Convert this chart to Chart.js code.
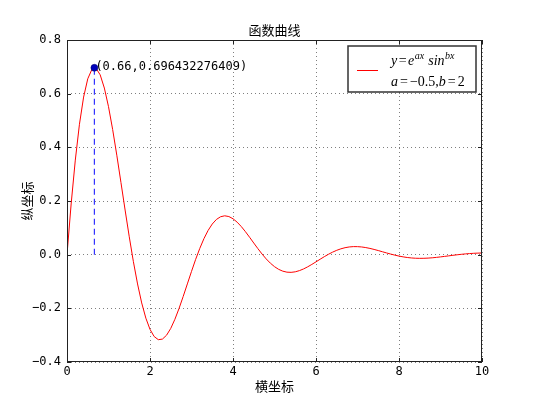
<!DOCTYPE html>
<html>
<head>
<meta charset="utf-8">
<script src="https://cdn.jsdelivr.net/npm/chart.js@4/dist/chart.umd.min.js"></script>
<style>
  html, body { margin: 0; padding: 0; background: #fff; }
  #wrap { width: 536px; height: 402px; }
</style>
</head>
<body>
<div id="wrap"><canvas id="curve" width="536" height="402"></canvas></div>
<script>
// y = e^(ax) * sin(bx), a=-0.5, b=2 at x steps of 0.1
var xs = [
    0.0, 0.1, 0.2, 0.3, 0.4, 0.5, 0.6, 0.7, 0.8, 0.9,
    1.0, 1.1, 1.2, 1.3, 1.4, 1.5, 1.6, 1.7, 1.8, 1.9,
    2.0, 2.1, 2.2, 2.3, 2.4, 2.5, 2.6, 2.7, 2.8, 2.9,
    3.0, 3.1, 3.2, 3.3, 3.4, 3.5, 3.6, 3.7, 3.8, 3.9,
    4.0, 4.1, 4.2, 4.3, 4.4, 4.5, 4.6, 4.7, 4.8, 4.9,
    5.0, 5.1, 5.2, 5.3, 5.4, 5.5, 5.6, 5.7, 5.8, 5.9,
    6.0, 6.1, 6.2, 6.3, 6.4, 6.5, 6.6, 6.7, 6.8, 6.9,
    7.0, 7.1, 7.2, 7.3, 7.4, 7.5, 7.6, 7.7, 7.8, 7.9,
    8.0, 8.1, 8.2, 8.3, 8.4, 8.5, 8.6, 8.7, 8.8, 8.9,
    9.0, 9.1, 9.2, 9.3, 9.4, 9.5, 9.6, 9.7, 9.8, 9.9,
    10.0
];
var ys = [
    0.0000, 0.1890, 0.3524, 0.4860, 0.5873, 0.6553, 0.6905, 0.6944, 0.6700, 0.6210,
    0.5515, 0.4665, 0.3707, 0.2691, 0.1664, 0.0667, -0.0262, -0.1092, -0.1799, -0.2366,
    -0.2784, -0.3050, -0.3168, -0.3146, -0.3000, -0.2747, -0.2408, -0.2003, -0.1557, -0.1090,
    -0.0624, -0.0176, 0.0235, 0.0598, 0.0903, 0.1142, 0.1312, 0.1413, 0.1448, 0.1421,
    0.1339, 0.1211, 0.1047, 0.0856, 0.0648, 0.0434, 0.0224, 0.0024, -0.0158, -0.0316,
    -0.0447, -0.0547, -0.0615, -0.0652, -0.0659, -0.0639, -0.0595, -0.0532, -0.0453, -0.0363,
    -0.0267, -0.0170, -0.0075, 0.0014, 0.0094, 0.0163, 0.0218, 0.0260, 0.0287, 0.0300,
    0.0299, 0.0287, 0.0264, 0.0233, 0.0195, 0.0153, 0.0109, 0.0065, 0.0022, -0.0018,
    -0.0053, -0.0082, -0.0106, -0.0123, -0.0133, -0.0137, -0.0135, -0.0128, -0.0117, -0.0101,
    -0.0083, -0.0064, -0.0044, -0.0024, -0.0005, 0.0013, 0.0028, 0.0041, 0.0051, 0.0058,
    0.0062
];
var peakX = 0.66;
var peakY = 0.696432276409;
var peakLabel = "(0.66,0.696432276409)";
var xTicks = [0, 2, 4, 6, 8, 10];
var yTicks = [-0.4, -0.2, 0.0, 0.2, 0.4, 0.6, 0.8];

var curveData = xs.map(function (x, i) { return { x: x, y: ys[i] }; });

var mono = "'DejaVu Sans Mono', monospace";
var cjk = "'Noto Sans CJK SC', sans-serif";

// frame, inward ticks, titles, annotation and the math legend
var decor = {
    id: 'decor',
    afterDatasetsDraw: function (chart) {
        var ctx = chart.ctx;
        var a = chart.chartArea;
        var sx = chart.scales.x, sy = chart.scales.y;
        ctx.save();
        ctx.strokeStyle = '#222';
        ctx.lineWidth = 1;
        ctx.strokeRect(a.left + 0.5, a.top + 0.5, a.right - a.left - 1, a.bottom - a.top - 1);
        ctx.beginPath();
        xTicks.forEach(function (t) {
            var px = Math.round(sx.getPixelForValue(t)) + 0.5;
            ctx.moveTo(px, a.bottom); ctx.lineTo(px, a.bottom - 4);
            ctx.moveTo(px, a.top); ctx.lineTo(px, a.top + 4);
        });
        yTicks.forEach(function (t) {
            var py = Math.round(sy.getPixelForValue(t)) + 0.5;
            ctx.moveTo(a.left, py); ctx.lineTo(a.left + 4, py);
            ctx.moveTo(a.right, py); ctx.lineTo(a.right - 4, py);
        });
        ctx.stroke();

        // annotation
        ctx.fillStyle = '#000';
        ctx.font = '12px ' + mono;
        ctx.textAlign = 'left';
        ctx.textBaseline = 'alphabetic';
        ctx.fillText(peakLabel, sx.getPixelForValue(peakX) + 1, sy.getPixelForValue(peakY) + 2);

        // titles
        ctx.font = '13px ' + cjk;
        ctx.textAlign = 'center';
        ctx.textBaseline = 'middle';
        ctx.fillText('函数曲线', (a.left + a.right) / 2, 30);
        ctx.fillText('横坐标', (a.left + a.right) / 2, 386);
        ctx.save();
        ctx.translate(27, (a.top + a.bottom) / 2);
        ctx.rotate(-Math.PI / 2);
        ctx.fillText('纵坐标', 0, 0);
        ctx.restore();

        // legend box
        var lx = 348, ly = 46, lw = 128, lh = 46;
        ctx.fillStyle = '#fff';
        ctx.fillRect(lx, ly, lw, lh);
        ctx.strokeStyle = '#333';
        ctx.lineWidth = 1.5;
        ctx.strokeRect(lx, ly, lw, lh);
        ctx.strokeStyle = 'red';
        ctx.lineWidth = 1;
        ctx.beginPath();
        ctx.moveTo(357, 70.5); ctx.lineTo(378, 70.5);
        ctx.stroke();

        ctx.fillStyle = '#000';
        ctx.textAlign = 'left';
        ctx.textBaseline = 'alphabetic';
        var it = "italic 14px 'Liberation Serif', serif";
        var up = "14px 'Liberation Serif', serif";
        var sup = "italic 10px 'Liberation Serif', serif";
        // [text, font, superscript, gap after]
        function run(parts, x, y) {
            parts.forEach(function (p) {
                ctx.font = p[1];
                var yy = p[2] ? y - 6 : y;
                ctx.fillText(p[0], x, yy);
                x += ctx.measureText(p[0]).width + (p[3] || 0);
            });
        }
        run([['y', it, false, 1.5], ['=', up, false, 1.5], ['e', it, false, 0.5],
             ['ax', sup, true, 4], ['sin', it, false, 0.5], ['bx', sup, true]], 391, 65);
        run([['a', it, false, 2], ['=', up, false, 2], ['\u22120.5,', up], ['b', it, false, 2],
             ['=', up, false, 2], ['2', up]], 391, 86);
        ctx.restore();
    }
};

var chart = new Chart(document.getElementById('curve').getContext('2d'), {
    type: 'line',
    data: {
        datasets: [
            {
                data: curveData,
                borderColor: 'red',
                borderWidth: 1,
                pointRadius: 0,
                tension: 0,
                order: 3
            },
            {
                data: [{ x: peakX, y: 0 }, { x: peakX, y: peakY }],
                borderColor: '#3333ff',
                borderWidth: 1.2,
                borderDash: [6, 4],
                pointRadius: 0,
                order: 2
            },
            {
                type: 'scatter',
                data: [{ x: peakX, y: peakY }],
                backgroundColor: '#0000bb',
                borderColor: '#000066',
                borderWidth: 0.5,
                pointRadius: 3.5,
                order: 1
            }
        ]
    },
    options: {
        responsive: false,
        animation: false,
        layout: { padding: { top: 40, right: 54, left: 0, bottom: 0 } },
        plugins: {
            legend: { display: false },
            tooltip: { enabled: false }
        },
        scales: {
            x: {
                type: 'linear',
                min: 0,
                max: 10,
                afterFit: function (s) { s.height = 40; },
                afterBuildTicks: function (s) { s.ticks = xTicks.map(function (v) { return { value: v }; }); },
                ticks: {
                    padding: 3,
                    color: '#000',
                    font: { family: mono, size: 12 },
                    maxRotation: 0,
                    callback: function (v) { return String(v); }
                },
                grid: { color: 'rgba(0,0,0,0.5)', drawTicks: false, lineWidth: 1 },
                border: { display: false, dash: [1, 3] }
            },
            y: {
                min: -0.4,
                max: 0.8,
                afterFit: function (s) { s.width = 67; },
                afterBuildTicks: function (s) { s.ticks = yTicks.map(function (v) { return { value: v }; }); },
                ticks: {
                    padding: 6,
                    color: '#000',
                    font: { family: mono, size: 12 },
                    callback: function (v) { return v.toFixed(1).replace('-', '\u2212'); }
                },
                grid: { color: 'rgba(0,0,0,0.5)', drawTicks: false, lineWidth: 1 },
                border: { display: false, dash: [1, 3] }
            }
        }
    },
    plugins: [decor]
});
</script>
</body>
</html>
